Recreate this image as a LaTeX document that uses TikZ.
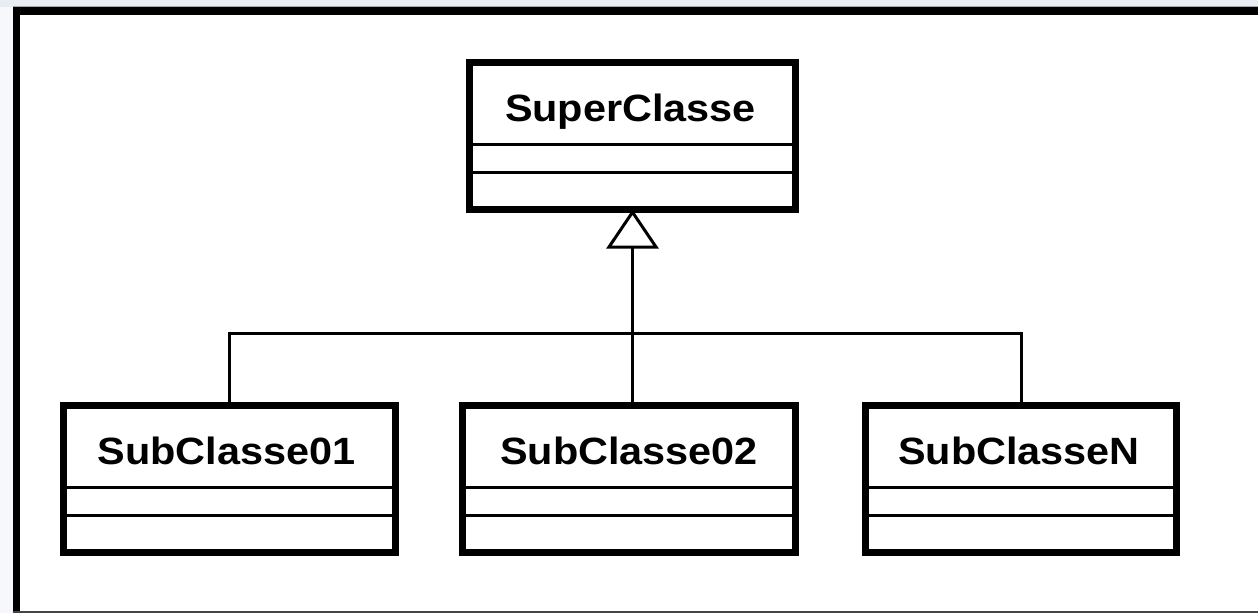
\documentclass[tikz,border=0pt]{standalone}
\usepackage{fontspec}
\setmainfont{Liberation Sans}
\newfontfamily\umlfont[FakeStretch=1.09]{Liberation Sans}
\usetikzlibrary{arrows.meta}
\definecolor{pagebg}{HTML}{F7F8FB}
\definecolor{topbg}{HTML}{E9ECF3}
\definecolor{rulegray}{HTML}{454545}

\begin{document}
\begin{tikzpicture}[x=1pt,y=-1pt,
  classbox/.style={draw=black, line width=7pt, fill=white, rectangle,
    inner sep=0pt, outer sep=0pt, minimum height=147pt},
  classname/.style={font=\umlfont\bfseries\fontsize{38}{40}\selectfont,
    anchor=base, inner sep=0pt},
  divider/.style={line width=3pt},
  link/.style={line width=3pt}]

  \useasboundingbox (0,0) rectangle (1258,613);

  % window background and frame
  \fill[pagebg] (0,0) rectangle (1258,613);
  \fill[topbg] (0,0) rectangle (1258,7);
  \draw[gray!70, line width=1pt] (13,6.5) -- (1258,6.5);
  \fill[white] (16.5,11) rectangle (1258,612);
  \draw[line width=7.5pt] (16.5,612) -- (16.5,11) -- (1258,11);
  \draw[rulegray, line width=1.5pt] (13,612.2) -- (1258,612.2);

  % class boxes
  \node[classbox, minimum width=326pt] (super) at (632.5,136) {};
  \node[classbox, minimum width=332pt] (sub01) at (229.5,479) {};
  \node[classbox, minimum width=333pt] (sub02) at (629,479) {};
  \node[classbox, minimum width=311pt] (subN)  at (1021,479) {};

  % compartments: attributes and operations
  \foreach \b in {super,sub01,sub02,subN}{
    \draw[divider] ([yshift=-82pt]\b.north west) -- ([yshift=-82pt]\b.north east);
    \draw[divider] ([yshift=-110pt]\b.north west) -- ([yshift=-110pt]\b.north east);
  }

  % class names
  \node[classname] (superlbl) at ([xshift=-2pt,yshift=-58.5pt]super.north) {SuperClasse};
  \node[classname] (sub01lbl) at ([xshift=-3pt,yshift=-58.5pt]sub01.north) {SubClasse01};
  \node[classname] (sub02lbl) at ([yshift=-58.5pt]sub02.north) {SubClasse02};
  \node[classname] (subNlbl)  at ([xshift=-2pt,yshift=-58.5pt]subN.north) {SubClasseN};

  % generalization
  \coordinate (joint) at (632.5,333);
  \draw[link] (sub01.north) |- (joint) -| (subN.north);
  \draw[link, -{Triangle[length=39pt,width=52pt,fill=white]}]
    (super.south |- sub02.north) -- (super.south);
\end{tikzpicture}
\end{document}
